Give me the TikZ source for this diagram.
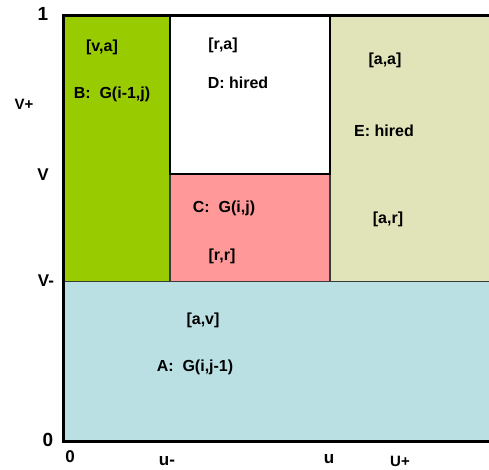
\documentclass[tikz,border=0pt]{standalone}
\usepackage{fontspec}
\setmainfont{Liberation Sans}
\definecolor{regA}{HTML}{BAE0E3}
\definecolor{regB}{HTML}{99CC00}
\definecolor{regC}{HTML}{FF9999}
\definecolor{regE}{HTML}{E1E3B9}
\definecolor{innerline}{HTML}{3A3A3A}
\begin{document}
\begin{tikzpicture}[x=1pt,y=-1pt,
  lbl/.style={font=\fontsize{16}{16}\selectfont\bfseries, inner sep=0pt},
  axl/.style={font=\fontsize{17}{17}\selectfont\bfseries, inner sep=0pt},
  bigl/.style={font=\fontsize{19}{19}\selectfont\bfseries, inner sep=0pt},
  inner/.style={draw=innerline, line width=1.3pt},
  outer/.style={draw=black, line width=3pt}]
\useasboundingbox (0,0) rectangle (489,469);
% regions
\fill[regA] (63,281.5) rectangle (495,441);
\fill[regB] (63,15) rectangle (170,281.5);
\fill[white] (170,15) rectangle (330,174);
\fill[regC] (170,174) rectangle (330,281.5);
\fill[regE] (330,15) rectangle (495,281.5);
% inner lines
\draw[inner] (63,281.5) -- (495,281.5);
\draw[inner] (330,15) -- (330,281.5);
\draw[inner] (170,174) -- (170,281.5);
\draw[draw=black, line width=2pt] (170,15) rectangle (330,174);
% outer frame
\draw[outer] (495,15) -- (63,15) -- (63,441) -- (495,441);
% region texts
\node[lbl] (va) at (102,47) {[v,a]};
\node[lbl] (Bl) at (112,94) {B:\ \ G(i-1,j)};
\node[lbl] (ra) at (223,45) {[r,a]};
\node[lbl] (Dl) at (238,83) {D: hired};
\node[lbl] (aa) at (385,60) {[a,a]};
\node[lbl] (El) at (384,131) {E: hired};
\node[lbl] (ar) at (388,219) {[a,r]};
\node[lbl] (Cl) at (224,208) {C:\ \ G(i,j)};
\node[lbl] (rr) at (222,256) {[r,r]};
\node[lbl] (av) at (203,320) {[a,v]};
\node[lbl] (Al) at (195,367) {A:\ \ G(i,j-1)};
% axis labels
\node[bigl] (one) at (43,14) {1};
\node[lbl, font=\fontsize{15}{15}\selectfont\bfseries] (vplus) at (24,104) {V+};
\node[axl] (vv) at (43,175) {V};
\node[axl] (vminus) at (46,281) {V-};
\node[bigl] (zeroy) at (48,440) {0};
\node[axl] (zerox) at (70,457) {0};
\node[axl, anchor=base] (uminus) at (167,465) {u-};
\node[axl, anchor=base] (uu) at (329,463) {u};
\node[lbl, font=\fontsize{15}{15}\selectfont\bfseries] (uplus) at (400,461) {U+};
\node[axl] (onex) at (494,457) {1};
\end{tikzpicture}
\end{document}
